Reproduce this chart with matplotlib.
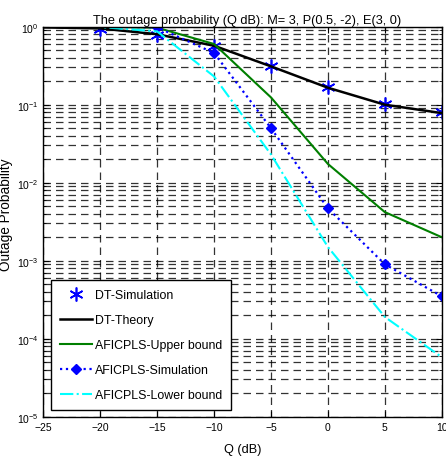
import matplotlib
matplotlib.use("Agg")
import matplotlib.pyplot as plt
from matplotlib.ticker import LogLocator, FixedLocator, NullFormatter

plt.rcParams['font.family'] = ['Liberation Sans', 'DejaVu Sans']
plt.rcParams['mathtext.fontset'] = 'custom'
plt.rcParams['mathtext.rm'] = 'Liberation Sans'
plt.rcParams['mathtext.it'] = 'Liberation Sans'

# Q in dB
q_db = [-25, -20, -15, -10, -5, 0, 5, 10]

dt_sim_q = [-20, -15, -10, -5, 0, 5, 10]
dt_sim = [0.93, 0.78, 0.57, 0.315, 0.167, 0.102, 0.080]

dt_theory = [0.98, 0.95, 0.80, 0.57, 0.31, 0.165, 0.100, 0.078]
upper_bound = [1.0, 1.0, 0.97, 0.60, 0.124, 0.0174, 0.0042, 0.0020]
afic_sim = [1.0, 1.0, 0.98, 0.46, 0.050, 0.0047, 0.00090, 0.00035]
lower_bound = [1.0, 0.99, 0.87, 0.23, 0.023, 0.0015, 0.00019, 0.000058]

fig = plt.figure(figsize=(4.46, 4.60), dpi=100)
ax = fig.add_axes([0.0971, 0.092, 0.8933, 0.8478])

ax.plot(dt_sim_q, dt_sim, linestyle='none', marker=(6, 2, 0), ms=10, mew=1.2,
        color='blue', label='DT-Simulation')
ax.plot(q_db, dt_theory, '-', color='black', lw=1.8, label='DT-Theory')
ax.plot(q_db, upper_bound, '-', color='#007f00', lw=1.5, label='AFICPLS-Upper bound')
ax.plot(q_db, afic_sim, ':', color='blue', lw=1.6, marker='D', ms=5.5,
        markevery=list(range(2, len(q_db))), label='AFICPLS-Simulation')
ax.plot(q_db, lower_bound, '-.', color='cyan', lw=1.5, label='AFICPLS-Lower bound')

ax.set_yscale('log')
ax.set_xlim(-25, 10)
ax.set_ylim(1e-5, 1)
ax.xaxis.set_major_locator(FixedLocator(list(range(-25, 11, 5))))
ax.yaxis.set_major_locator(LogLocator(base=10, numticks=10))
ax.yaxis.set_minor_locator(LogLocator(base=10, subs=range(2, 10), numticks=20))
ax.yaxis.set_minor_formatter(NullFormatter())

grid_kw = dict(color='black', linestyle=(0, (6, 4)), linewidth=0.9, alpha=0.8)
ax.grid(True, which='major', axis='both', **grid_kw)
ax.grid(True, which='minor', axis='y', **grid_kw)
ax.set_axisbelow(True)

ax.tick_params(which='both', direction='in', top=True, right=True, labelsize=7.5)
ax.tick_params(which='major', length=4, width=0.8)
ax.tick_params(which='minor', length=2, width=0.6)
for s in ax.spines.values():
    s.set_linewidth(1.0)

ax.set_title('The outage probability (Q dB): M= 3, P(0.5, -2), E(3, 0)',
             fontsize=9.2, pad=3, x=0.512)
ax.set_xlabel('Q (dB)', fontsize=9.2, labelpad=8)
ax.set_ylabel('Outage Probability', fontsize=9.8)
ax.yaxis.set_label_coords(-0.075, 0.52)

leg = ax.legend(loc='lower left', bbox_to_anchor=(0.004, 0.0), fontsize=8.9,
                frameon=True, fancybox=False, edgecolor='black', framealpha=1,
                handlelength=2.6, labelspacing=1.05, borderpad=0.75,
                borderaxespad=0.5, handletextpad=0.2)
leg.get_frame().set_linewidth(1.0)

fig.savefig('out.png', dpi=100)
